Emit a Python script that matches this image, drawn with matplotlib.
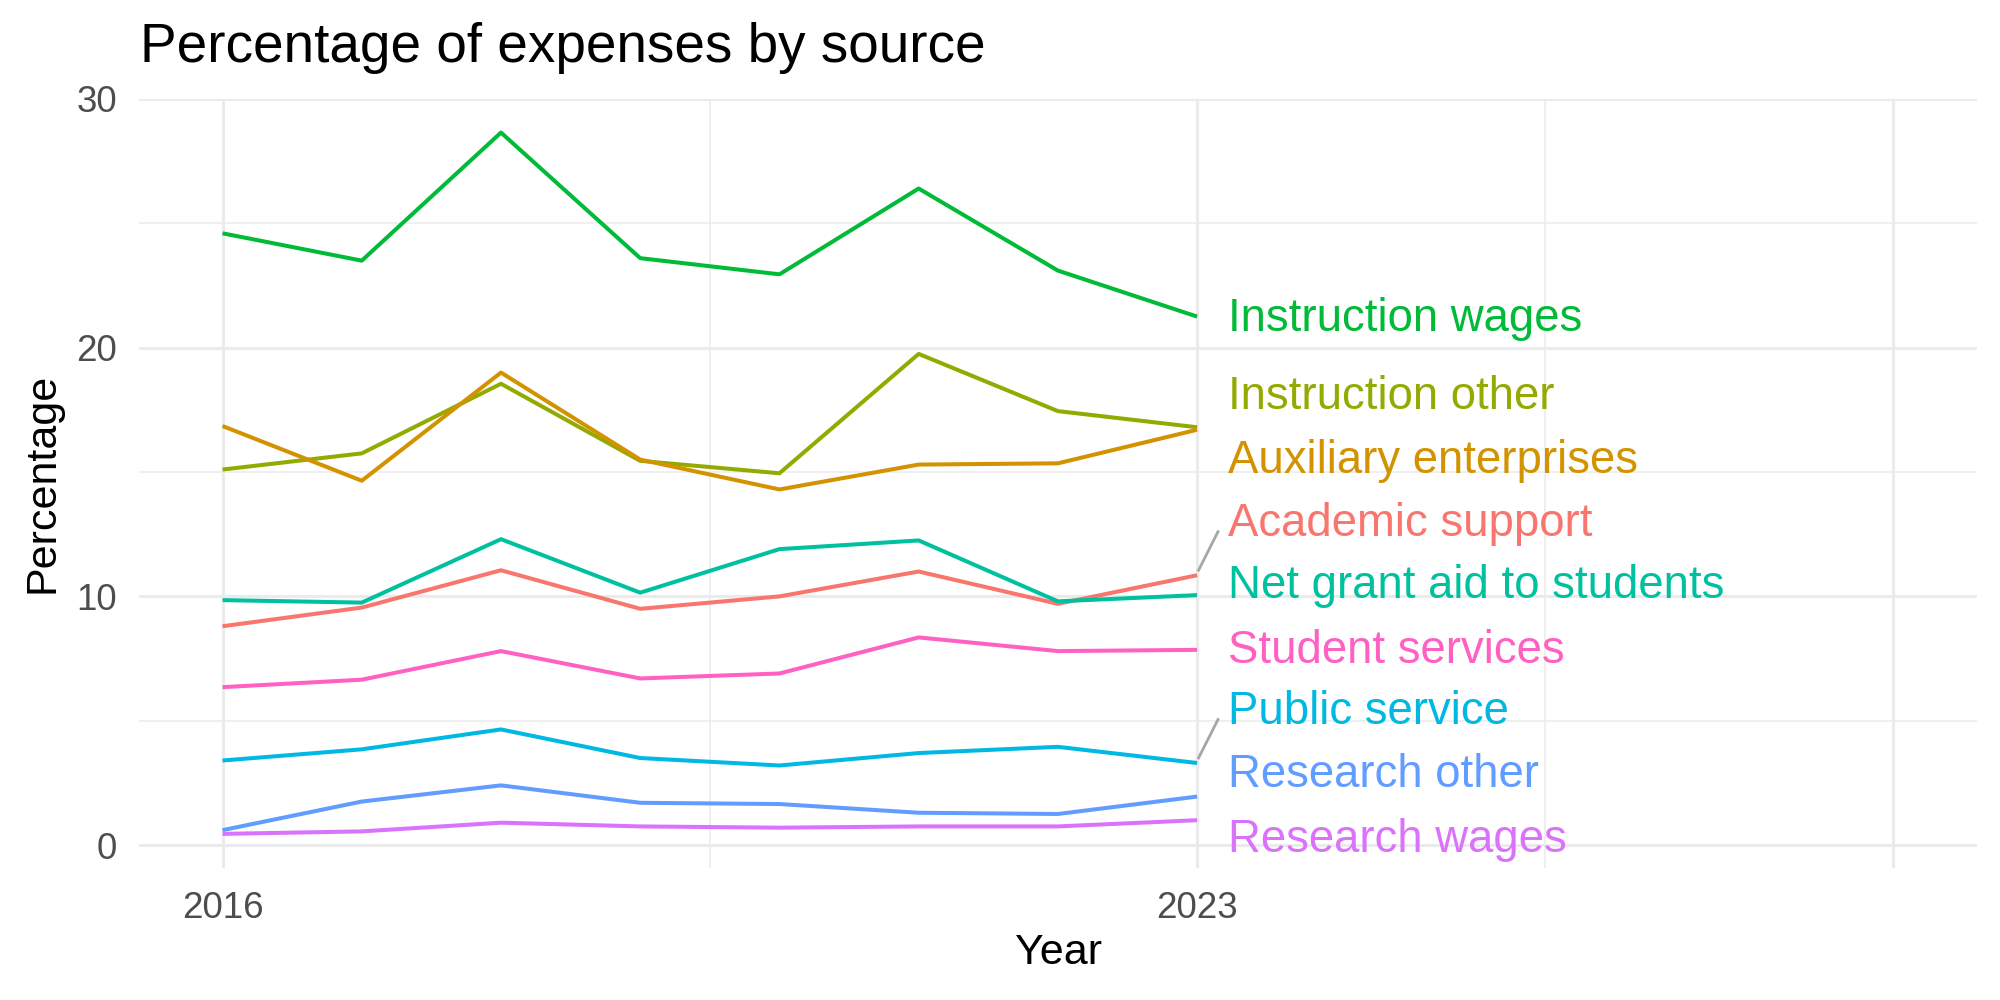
import matplotlib
matplotlib.use("Agg")
import matplotlib.pyplot as plt

plt.rcParams['font.family'] = ['Liberation Sans', 'DejaVu Sans']

years = [2016, 2017, 2018, 2019, 2020, 2021, 2022, 2023]

# values (percent of expenses)
instruction_wages = [24.6, 23.5, 28.65, 23.6, 22.95, 26.4, 23.1, 21.25]
instruction_other = [15.1, 15.75, 18.55, 15.45, 14.95, 19.75, 17.45, 16.8]
auxiliary_enterprises = [16.85, 14.65, 19.0, 15.5, 14.3, 15.3, 15.35, 16.7]
academic_support = [8.8, 9.55, 11.05, 9.5, 10.0, 11.0, 9.7, 10.85]
net_grant_aid = [9.85, 9.75, 12.3, 10.15, 11.9, 12.25, 9.8, 10.05]
student_services = [6.35, 6.65, 7.8, 6.7, 6.9, 8.35, 7.8, 7.85]
public_service = [3.4, 3.85, 4.65, 3.5, 3.2, 3.7, 3.95, 3.3]
research_other = [0.6, 1.75, 2.4, 1.7, 1.65, 1.3, 1.25, 1.95]
research_wages = [0.45, 0.55, 0.9, 0.75, 0.7, 0.75, 0.75, 1.0]

sources = ["Instruction wages", "Instruction other", "Auxiliary enterprises",
           "Academic support", "Net grant aid to students", "Student services",
           "Public service", "Research other", "Research wages"]
series = [instruction_wages, instruction_other, auxiliary_enterprises,
          academic_support, net_grant_aid, student_services,
          public_service, research_other, research_wages]
colors = ["#00BA38", "#93AA00", "#D39200", "#F8766D", "#00C19F",
          "#FF61C3", "#00B9E3", "#619CFF", "#DB72FB"]

# repelled label positions (layout)
label_y = [21.15, 18.0, 15.45, 12.9, 10.4, 7.8, 5.35, 2.8, 0.2]
label_x = 2023.22

fig = plt.figure(figsize=(20, 10), dpi=100)
ax = fig.add_axes([0.0695, 0.1323, 0.9189, 0.7687])

ax.set_xlim(2015.4, 2028.6)
ax.set_ylim(-0.91, 30.0)

# theme_minimal style grid
for x in [2019.5, 2025.5]:
    ax.axvline(x, color="#EBEBEB", lw=1.1, zorder=0)
for x in [2016, 2023, 2028]:
    ax.axvline(x, color="#EBEBEB", lw=2.2, zorder=0)
for y in [5, 15, 25]:
    ax.axhline(y, color="#EBEBEB", lw=1.1, zorder=0)
for y in [0, 10, 20, 30]:
    ax.axhline(y, color="#EBEBEB", lw=2.2, zorder=0)

for name, vals, c, ly in zip(sources, series, colors, label_y):
    ax.plot(years, vals, color=c, lw=2.9, solid_capstyle='butt', zorder=3)
    last = vals[-1]
    if abs(ly - last) > 1.5:
        ax.plot([2023.01, 2023.15], [last + 0.2, ly - 0.3],
                color="#A6A6A6", lw=2.0, zorder=2)
    ax.text(label_x, ly, name, color=c, fontsize=32.8, va='center', ha='left',
            zorder=4)

for s in ax.spines.values():
    s.set_visible(False)

ax.set_xticks([2016, 2023])
ax.set_xticklabels(["2016", "2023"])
ax.set_yticks([0, 10, 20, 30])
ax.set_yticklabels(["0", "10", "20", "30"])
ax.tick_params(length=0, labelsize=26.5, labelcolor="#4D4D4D")
ax.tick_params(axis='x', pad=17)
ax.tick_params(axis='y', pad=16)

fig.text(0.0700, 1 - 62 / 1000, "Percentage of expenses by source",
         fontsize=39.5, va='baseline', ha='left', color='black')
fig.text(1058 / 2000, 1 - 953 / 1000, "Year", fontsize=31,
         va='center', ha='center', color='black')
fig.text(42 / 2000, 1 - 483 / 1000, "Percentage", fontsize=31,
         va='center', ha='center', rotation=90, color='black')

fig.savefig("out.png", dpi=100, facecolor="white")
